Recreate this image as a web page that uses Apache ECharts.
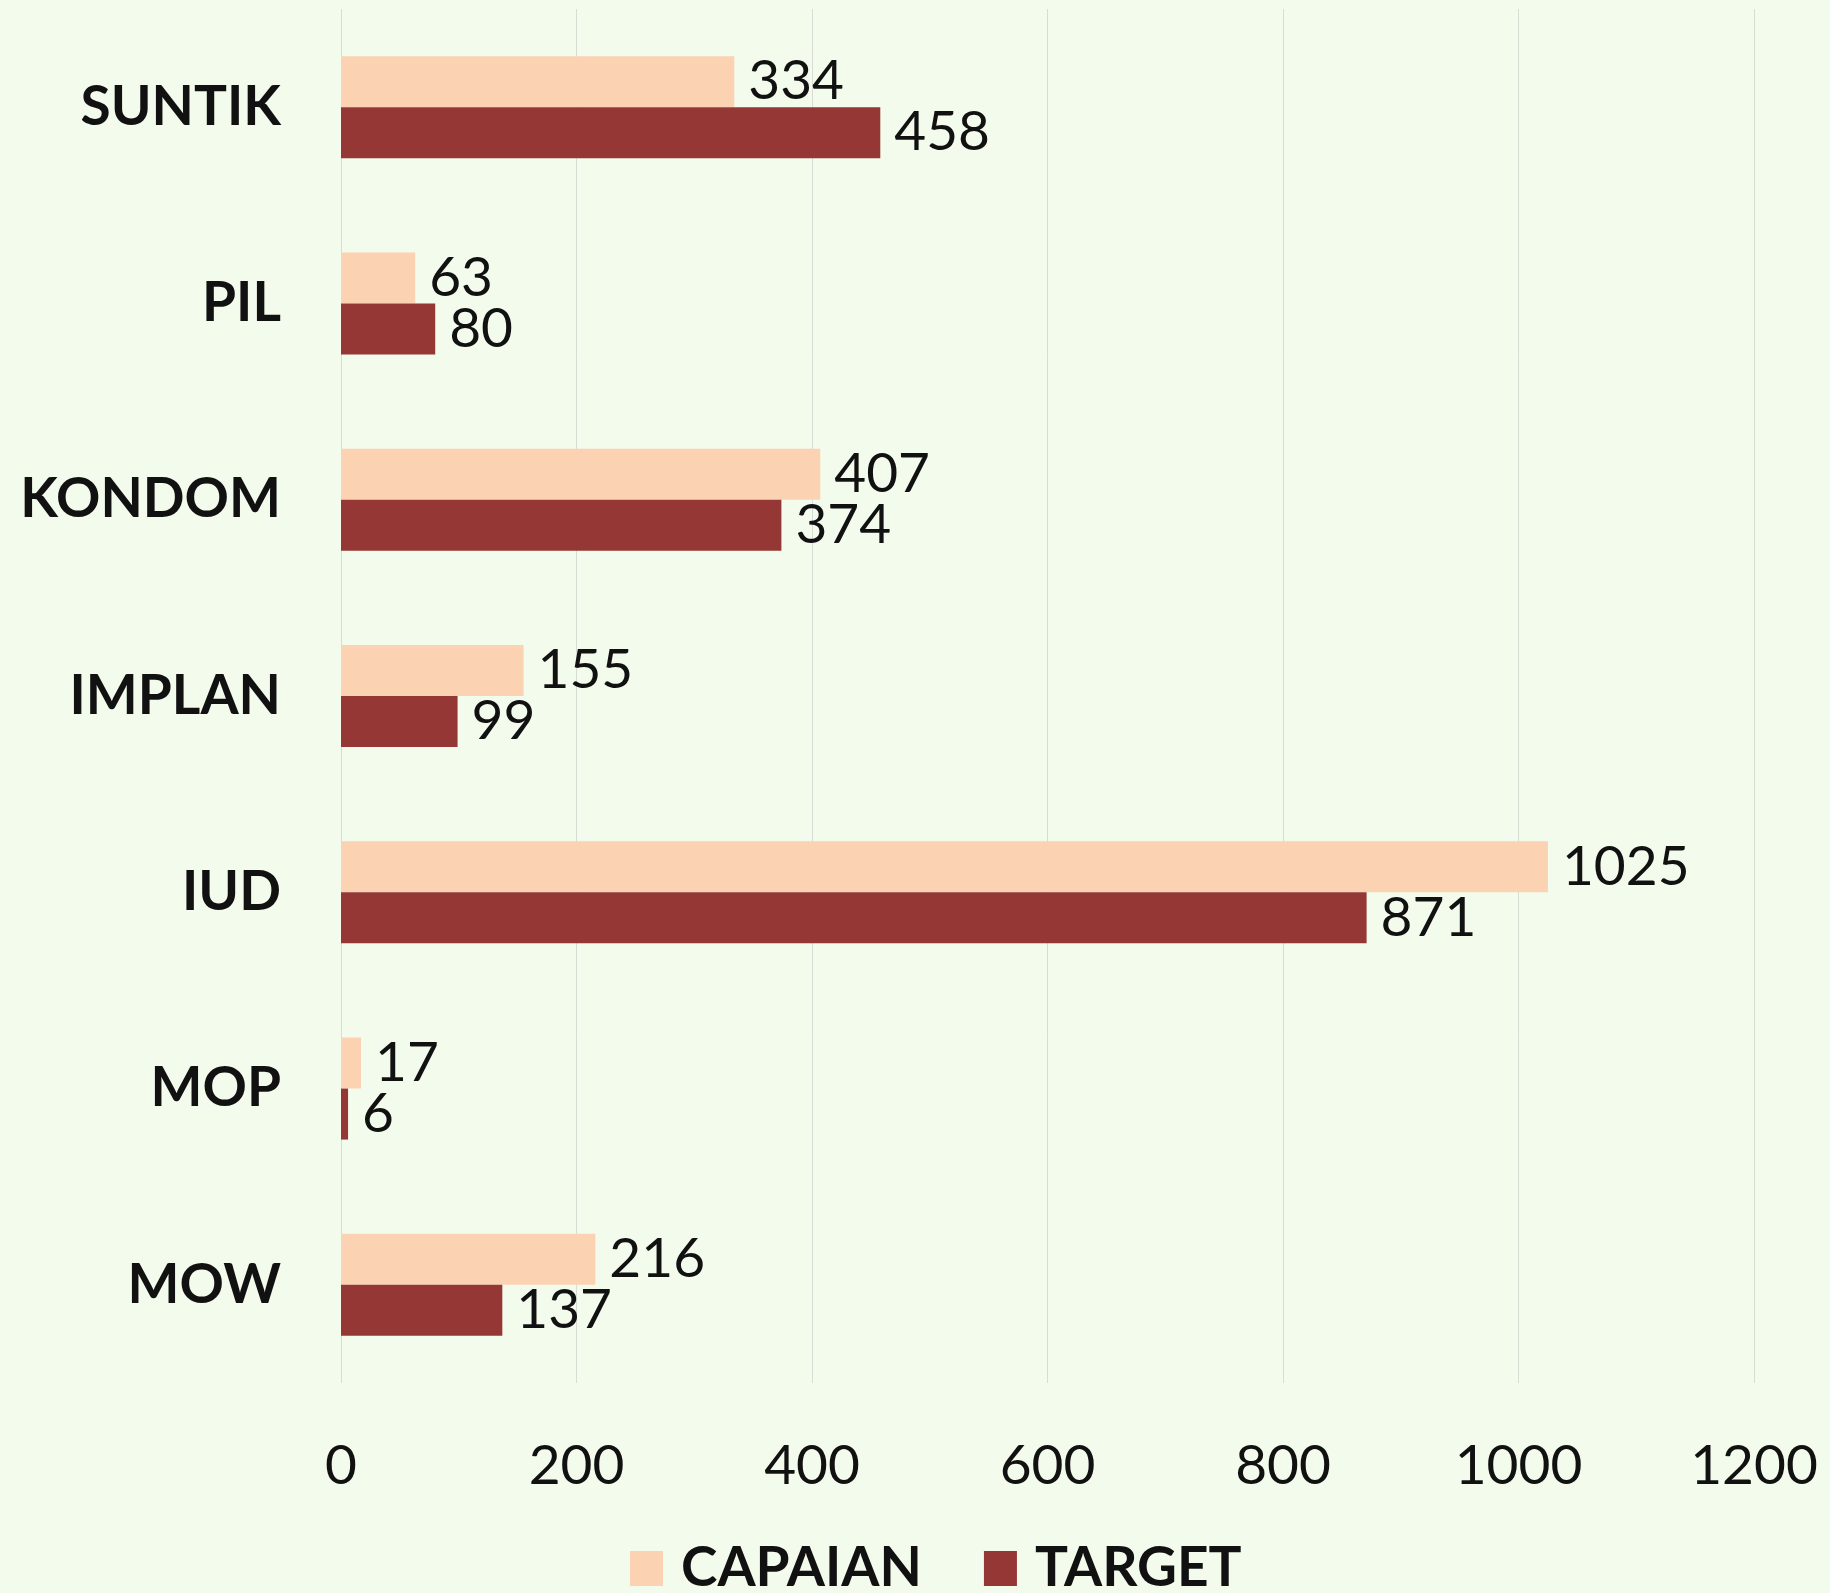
<!DOCTYPE html>
<html>
<head>
<meta charset="utf-8">
<script src="https://cdn.jsdelivr.net/npm/echarts@6/dist/echarts.min.js"></script>
<style>
  html, body { margin: 0; padding: 0; background: #f3fbec; }
  #chart { width: 1830px; height: 1593px; }
</style>
</head>
<body>
<div id="chart"></div>
<script>
const categories = ["SUNTIK", "PIL", "KONDOM", "IMPLAN", "IUD", "MOP", "MOW"];
const capaian = [334, 63, 407, 155, 1025, 17, 216];
const target = [458, 80, 374, 99, 871, 6, 137];

const font = "Lato, 'Open Sans', sans-serif";

const chart = echarts.init(document.getElementById("chart"));

const labelStyle = {
  show: true,
  position: "right",
  distance: 14,
  color: "#111",
  fontFamily: font,
  fontSize: 55
};

chart.setOption({
  backgroundColor: "#f3fbec",
  animation: false,
  grid: { left: 341, right: 76, top: 9, bottom: 210 },
  legend: {
    bottom: -8,
    left: 625,
    itemWidth: 33,
    itemHeight: 35,
    itemGap: 62,
    icon: "rect",
    textStyle: {
      fontFamily: font, fontSize: 55, fontWeight: "bold", color: "#111",
      padding: [0, 0, 0, 13]
    },
    data: ["CAPAIAN", "TARGET"]
  },
  xAxis: {
    type: "value",
    min: 0,
    max: 1200,
    interval: 200,
    axisLine: { show: false },
    axisTick: { show: false },
    splitLine: { lineStyle: { color: "#d9dcd4", width: 1 } },
    axisLabel: {
      margin: 56, color: "#111", fontFamily: font, fontSize: 55,
      formatter: (v) => String(v)
    }
  },
  yAxis: {
    type: "category",
    inverse: true,
    data: categories,
    axisLine: { show: false },
    axisTick: { show: false },
    axisLabel: { margin: 60, color: "#111", fontFamily: font, fontSize: 55, fontWeight: "bold" }
  },
  series: [
    {
      name: "CAPAIAN",
      type: "bar",
      data: capaian,
      barWidth: 51,
      barGap: "0%",
      itemStyle: { color: "#fcd3b2" },
      label: labelStyle
    },
    {
      name: "TARGET",
      type: "bar",
      data: target,
      barWidth: 51,
      barGap: "0%",
      itemStyle: { color: "#953735" },
      label: labelStyle
    }
  ]
});
</script>
</body>
</html>
